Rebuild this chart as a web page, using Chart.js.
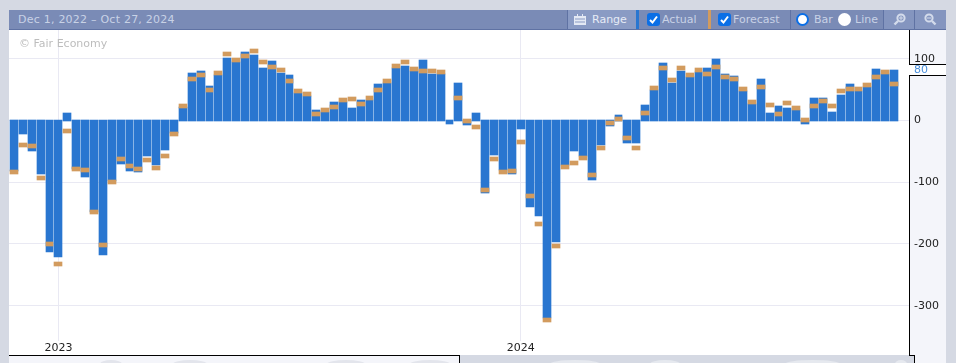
<!DOCTYPE html>
<html>
<head>
<meta charset="utf-8">
<script src="https://cdn.jsdelivr.net/npm/chart.js@4"></script>
<style>
html, body { margin: 0; padding: 0; background: #d5d9e3; overflow: hidden; }
body { width: 956px; height: 363px; position: relative; font: 11px "DejaVu Sans", sans-serif; }
.abs { position: absolute; }
#header { left: 9px; top: 10px; width: 937px; height: 19px; background: #7a8bb6; border-bottom: 1px solid #5f72a3; }
.seg { top: 10px; height: 19px; }
.sep { top: 10px; width: 1px; height: 19px; background: #5f72a3; }
.lbl { top: 10px; height: 19px; line-height: 20px; color: #c8d2e6; white-space: nowrap; }
.check { top: 13px; width: 13px; height: 13px; border-radius: 3px; background: #0b6fe6; }
.radio { top: 13px; width: 13px; height: 13px; border-radius: 50%; box-sizing: border-box; background: #fff; }
#plotBg { left: 9px; top: 30px; width: 900px; height: 325px; background: #fff; }
#axisBg { left: 909px; top: 30px; width: 37px; height: 333px; background: #f4f5fa; }
#chartBox { left: 9px; top: 30px; width: 937px; height: 325px; }
#mark { left: 19px; top: 37px; color: #bdbdbd; }
.cloud { top: 360px; height: 8px; border-radius: 50%; }
</style>
</head>
<body>
<div class="abs" id="plotBg"></div>
<div class="abs" id="axisBg"></div>
<!-- strip under the chart -->
<div class="abs" style="left:9px;top:355px;width:451px;height:8px;background:#f4f5fa;border-top:1px solid #000;box-sizing:border-box;border-right:1px solid #000"></div>
<div class="abs" style="left:909px;top:355px;width:6px;height:8px;background:#d5d9e3;box-sizing:border-box;border-top:1px solid #000;border-right:1px solid #000"></div>
<div class="abs cloud" style="left:100px;width:22px;background:#e3e5ec"></div>
<div class="abs cloud" style="left:173px;width:34px;background:#e3e5ec"></div>
<div class="abs cloud" style="left:327px;width:38px;background:#e3e5ec"></div>
<div class="abs cloud" style="left:410px;width:40px;background:#e3e5ec"></div>
<div class="abs cloud" style="left:550px;width:50px;background:#e6e9ef"></div>
<div class="abs cloud" style="left:650px;width:30px;background:#e6e9ef"></div>
<div class="abs cloud" style="left:785px;width:55px;background:#e6e9ef"></div>
<div class="abs cloud" style="left:895px;width:12px;background:#e6e9ef"></div>

<div class="abs" id="chartBox"><canvas id="releaseChart" width="937" height="325"></canvas></div>
<div class="abs" id="mark">© Fair Economy</div>

<div class="abs" id="header"></div>
<div class="abs lbl" style="left:18px;letter-spacing:.23px">Dec 1, 2022 – Oct 27, 2024</div>
<div class="abs seg" style="left:568px;width:68px;background:#8a9bc4"></div>
<div class="abs sep" style="left:567px"></div>
<svg class="abs" style="left:573px;top:13px" width="14" height="13" viewBox="0 0 14 13"><path d="M1 3h3V1h1v2h4V1h1v2h3v9H1z" fill="#e4e9f4"/><path d="M2 6h10M2 9h10" stroke="#8a9bc4"/></svg>
<div class="abs lbl" style="left:592px;color:#e6ebf6">Range</div>
<div class="abs seg" style="left:636px;width:3px;background:#2976d0"></div>
<div class="abs check" style="left:647px"><svg width="13" height="13" viewBox="0 0 13 13"><path d="M3 7l2.5 2.5L10 3.5" fill="none" stroke="#fff" stroke-width="2"/></svg></div>
<div class="abs lbl" style="left:662px">Actual</div>
<div class="abs seg" style="left:708px;width:3px;background:#d29b5e"></div>
<div class="abs check" style="left:718px"><svg width="13" height="13" viewBox="0 0 13 13"><path d="M3 7l2.5 2.5L10 3.5" fill="none" stroke="#fff" stroke-width="2"/></svg></div>
<div class="abs lbl" style="left:733px">Forecast</div>
<div class="abs sep" style="left:790px"></div>
<div class="abs radio" style="left:796px;border:2px solid #0b6fe6"></div>
<div class="abs lbl" style="left:814px">Bar</div>
<div class="abs radio" style="left:838px"></div>
<div class="abs lbl" style="left:855px">Line</div>
<div class="abs sep" style="left:883px"></div>
<div class="abs seg" style="left:884px;width:30px;background:#8495bf"></div>
<div class="abs sep" style="left:914px"></div>
<div class="abs seg" style="left:915px;width:31px;background:#8495bf"></div>
<svg class="abs" style="left:893px;top:13px" width="13" height="13" viewBox="0 0 13 13"><circle cx="8" cy="5" r="3.6" fill="none" stroke="#d3dbeb" stroke-width="2"/><path d="M5 8l-3.5 3.5" stroke="#d3dbeb" stroke-width="2.4"/><path d="M6 5h4M8 3v4" stroke="#d3dbeb"/></svg>
<svg class="abs" style="left:924px;top:13px" width="13" height="13" viewBox="0 0 13 13"><circle cx="5" cy="5" r="3.6" fill="none" stroke="#d3dbeb" stroke-width="2"/><path d="M8 8l3.5 3.5" stroke="#d3dbeb" stroke-width="2.4"/><path d="M3 5h4" stroke="#d3dbeb"/></svg>

<script>
var weeks = [
  'Dec 1 2022','Dec 8 2022','Dec 15 2022','Dec 22 2022','Dec 29 2022',
  'Jan 5 2023','Jan 12 2023','Jan 19 2023','Jan 26 2023','Feb 2 2023','Feb 9 2023','Feb 16 2023','Feb 23 2023',
  'Mar 2 2023','Mar 9 2023','Mar 16 2023','Mar 23 2023','Mar 30 2023','Apr 6 2023','Apr 13 2023','Apr 20 2023','Apr 27 2023',
  'May 4 2023','May 11 2023','May 18 2023','May 25 2023','Jun 1 2023','Jun 8 2023','Jun 15 2023','Jun 22 2023','Jun 29 2023',
  'Jul 6 2023','Jul 13 2023','Jul 20 2023','Jul 27 2023','Aug 3 2023','Aug 10 2023','Aug 17 2023','Aug 24 2023','Aug 31 2023',
  'Sep 7 2023','Sep 14 2023','Sep 21 2023','Sep 28 2023','Oct 5 2023','Oct 12 2023','Oct 19 2023','Oct 26 2023',
  'Nov 2 2023','Nov 9 2023','Nov 16 2023','Nov 23 2023','Nov 30 2023','Dec 7 2023','Dec 14 2023','Dec 21 2023','Dec 28 2023',
  'Jan 4 2024','Jan 11 2024','Jan 18 2024','Jan 25 2024','Feb 1 2024','Feb 8 2024','Feb 15 2024','Feb 22 2024','Feb 29 2024',
  'Mar 7 2024','Mar 14 2024','Mar 21 2024','Mar 28 2024','Apr 4 2024','Apr 11 2024','Apr 18 2024','Apr 25 2024',
  'May 2 2024','May 9 2024','May 16 2024','May 23 2024','May 30 2024','Jun 6 2024','Jun 13 2024','Jun 20 2024','Jun 27 2024',
  'Jul 4 2024','Jul 11 2024','Jul 18 2024','Jul 25 2024','Aug 1 2024','Aug 8 2024','Aug 15 2024','Aug 22 2024','Aug 29 2024',
  'Sep 5 2024','Sep 12 2024','Sep 19 2024','Sep 26 2024','Oct 3 2024','Oct 10 2024','Oct 17 2024','Oct 24 2024'
];

var actual = [
  -82,-21.8,-49.2,-86.3,-212.8,-221,12.4,-78,-91.4,-148.6,
  -217.8,-98.5,-70.2,-81.4,-83,-57.3,-71.8,-47.6,-20,21,
  76.9,80.1,55.9,73.7,101.4,94.6,111.2,106.3,84.9,96.6,
  76.9,73.7,44.6,39.8,17.2,14,30.1,30,20.4,33.3,
  33.3,59.1,60.8,84.9,88.2,80.1,98.2,75.3,75.3,-5.6,
  60.8,-7.3,12.4,-117.4,-55.6,-80,-86.3,-13.7,-140,-154.6,
  -320.5,-197,-73,-49.2,-58,-96.4,-39.5,-8.9,8.9,-36.3,
  -36.3,25.3,49.5,93,60.8,80.1,70.4,78.5,84.9,99.9,
  75.3,72,47.8,26.9,67.2,12.4,23.7,20.4,17.2,-5.6,
  36.6,36.6,14,41.4,59.1,47.8,54.3,83.3,75.3,81
];

var forecast = [
  -84,-39.5,-41.1,-92.7,-200,-232.3,-16.9,-78.2,-79.8,-148.2,
  -201.6,-99.6,-62.1,-73.4,-78.2,-63.7,-76.6,-57.3,-21.8,23.7,
  67.2,73.7,49.5,76.9,108,97.8,104.7,112.8,94.9,86.6,
  81.7,64,47.8,43,10.8,17.2,22,33.3,34.9,26.9,
  36.6,49.5,64,88.2,94.9,83.3,80.1,80.1,78.5,null,
  36.6,-0.8,-10.5,-112.4,-62.1,-83,-81.5,-34.7,-122.3,-167.7,
  -323,-203.2,-75,-68.5,-60.5,-88.2,-44.4,-4,2.4,-28.2,
  -44.4,12.4,52.7,84.9,65.6,84.9,73.7,81.7,75.3,86.9,
  70.4,67.2,51.1,30.1,54.3,25.3,10.8,28.5,20.4,1,
  23.7,31.7,23.7,47.8,51.1,51.1,57.5,70.4,78.5,59.1
];

var yearWeeks = ['Jan 5 2023','Jan 4 2024'];
var yTicks = [100, 0, -100, -200, -300];
var latestLabel = '80';

var fontSpec = { family: '"DejaVu Sans", sans-serif', size: 11 };

// bars in the original sit on whole pixels, chart.js leaves them fractional.
// forecast is only a 4px marker centred on its value
var snapBars = {
  id: 'snapBars',
  afterDatasetsUpdate: function(chart) {
    var xs = chart.scales.x, ys = chart.scales.y, zero = ys.getPixelForValue(0);
    chart.getSortedVisibleDatasetMetas().forEach(function(meta) {
      var isForecast = meta.index === 1;
      meta.data.forEach(function(bar, i) {
        var left = Math.round(xs.getPixelForValue(i) - 4);
        var next = Math.round(xs.getPixelForValue(i + 1) - 4);
        bar.width = next - left - 1;
        bar.x = left + bar.width / 2;
        if (isForecast) {
          if (forecast[i] === null) return;
          bar.y = Math.round(ys.getPixelForValue(forecast[i]) - 2);
          bar.base = bar.y + 4;
        } else {
          bar.base = bar.y < zero ? Math.ceil(zero) : Math.floor(zero);
          bar.y = Math.round(bar.y);
        }
      });
    });
  }
};

// white box with the latest value on the price axis, axis line runs on under the plot
var latestBox = {
  id: 'latestBox',
  afterDraw: function(chart) {
    var c = chart.ctx, ya = chart.scales.y, right = chart.width, area = chart.chartArea;
    var yc = Math.round(ya.getPixelForValue(actual[actual.length - 1]));
    var x0 = area.right;
    c.save();
    c.fillStyle = '#000';
    c.fillRect(x0, area.bottom, 1, chart.height - area.bottom);
    c.fillStyle = '#fff';
    c.fillRect(x0, yc - 6, right - x0, 11);
    c.fillStyle = '#000';
    c.fillRect(x0, yc - 6, right - x0, 1);
    c.fillRect(x0, yc + 5, right - x0, 1);
    c.fillStyle = '#4a8fdc';
    c.font = '11px "DejaVu Sans", sans-serif';
    c.textBaseline = 'middle';
    c.fillText(latestLabel, x0 + 5, yc);
    c.restore();
  }
};

var canvas = document.getElementById('releaseChart');
var ctx = canvas.getContext('2d');

var chart = new Chart(ctx, {
  type: 'bar',
  data: {
    datasets: [
      {
        label: 'Actual',
        data: actual.map(function(v, i) { return { x: i, y: v }; }),
        backgroundColor: '#2976d0',
        barThickness: 8,
        grouped: false,
        order: 1
      },
      {
        label: 'Forecast',
        data: forecast.map(function(v, i) { return { x: i, y: v }; }),
        backgroundColor: '#d29b5e',
        barThickness: 8,
        grouped: false,
        order: 0
      }
    ]
  },
  options: {
    responsive: false,
    animation: false,
    layout: { padding: 0 },
    plugins: { legend: { display: false }, tooltip: { enabled: false } },
    scales: {
      x: {
        type: 'linear',
        offset: false,
        bounds: 'data',
        min: -0.5624,
        max: 100.675,
        grid: { color: '#e9e9f3', drawTicks: false, offset: false },
        border: { display: false },
        afterBuildTicks: function(scale) {
          scale.ticks = yearWeeks.map(function(w) { return { value: weeks.indexOf(w) }; });
        },
        ticks: {
          autoSkip: false,
          maxRotation: 0,
          padding: 1,
          color: '#222',
          font: fontSpec,
          callback: function(value) { return weeks[value].slice(-4); }
        },
        afterFit: function(scale) {
          scale.height = 14;
          scale.paddingLeft = 0;
          scale.paddingRight = 0;
        }
      },
      y: {
        position: 'right',
        bounds: 'data',
        min: -357.2,
        max: 146.4,
        grid: { color: '#e9e9f3', drawTicks: false },
        border: { display: true, color: '#000', width: 1 },
        afterBuildTicks: function(scale) {
          scale.ticks = yTicks.map(function(v) { return { value: v }; });
        },
        ticks: {
          padding: 5,
          color: '#222',
          font: fontSpec,
          callback: function(value) { return String(value); }
        },
        afterFit: function(scale) {
          scale.width = 37;
          scale.paddingTop = 0;
          scale.paddingBottom = 0;
        }
      }
    }
  },
  plugins: [snapBars, latestBox]
});
</script>
</body>
</html>
